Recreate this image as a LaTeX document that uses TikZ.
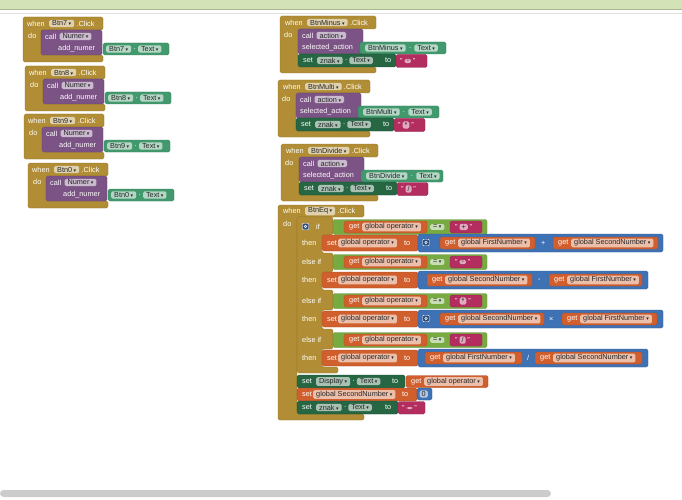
\documentclass[tikz,border=0pt]{standalone}
\usepackage{fontspec}
\setmainfont{Liberation Sans}
\newfontfamily\symf{DejaVu Sans}
\usepackage{tikz}
\usetikzlibrary{positioning}

\definecolor{evt}{RGB}{177,142,53}
\definecolor{proc}{RGB}{124,83,133}
\definecolor{comp}{RGB}{67,153,110}
\definecolor{setc}{RGB}{38,102,67}
\definecolor{txt}{RGB}{179,45,94}
\definecolor{var}{RGB}{208,95,45}
\definecolor{math}{RGB}{63,113,181}
\definecolor{logic}{RGB}{119,171,65}
\definecolor{topbar}{RGB}{212,226,184}

\newcommand{\bfs}{\fontsize{7.3}{8}\selectfont}
\newcommand{\dn}{{\hspace{1.5pt}\symf\fontsize{5}{5}\selectfont ▾}}

\tikzset{
  lbl/.style={text=white, inner sep=0pt, anchor=west, font=\bfs},
  fld/.style={fill=white, fill opacity=.6, text opacity=1, text=black!85,
    rounded corners=1.5pt, inner xsep=3pt, inner ysep=1pt, anchor=west, font=\bfs},
  blk/.style={rounded corners=1.5pt, draw=#1!80!black, line width=.3pt, fill=#1},
  mut/.style={fill=math!70!black, draw=white, line width=.4pt, rounded corners=1pt,
    minimum size=6.5pt, inner sep=0pt},
}

\begin{document}
\begin{tikzpicture}[x=1pt,y=-1pt]
    \useasboundingbox (0,0) rectangle (682,500);

    % Top bar and scroll bar
    \fill[topbar] (0,0) rectangle (682,9);
    \draw[topbar!80!black, line width=.6pt] (0,9.3) -- (682,9.3);
    \draw[gray!25, line width=1pt] (0,14) -- (682,14);
    \fill[gray!40, rounded corners=3.5pt] (0,490) rectangle (551,497);

    % Digit buttons
    \foreach \bx/\by/\bn in {23/17/Btn7,25/66/Btn8,24/114/Btn9,28/163/Btn0}{
      \begin{scope}[shift={(\bx,\by)}]
        \draw[blk=evt] (0,0) -- (80,0) -- (80,13) -- (18,13) -- (18,38) -- (80,38) -- (80,45) -- (0,45) -- cycle;
        \draw[blk=proc] (18,13) rectangle (79,38);
        \draw[blk=comp] (80,26) rectangle (146,38);
        \node[lbl] (when\bn) at (4,6.5) {when};
        \node[fld] (ev\bn) at (26,6.5) {\bn\dn};
        \node[lbl, right=2pt of ev\bn] (click\bn) {.Click};
        \node[lbl] (do\bn) at (5,19) {do};
        \node[lbl] (call\bn) at (22,19.5) {call};
        \node[fld, right=3pt of call\bn] (proc\bn) {Numer\dn};
        \node[lbl] (arg\bn) at (35,32) {add\_numer};
        \node[fld] (src\bn) at (83,32) {\bn\dn};
        \node[lbl, right=2pt of src\bn] (dot\bn) {.};
        \node[fld, right=2pt of dot\bn] (prop\bn) {Text\dn};
      \end{scope}
    }

    % Operator buttons
    \foreach \ex/\ey/\en/\hw/\tw/\op in {280/16/BtnMinus/96/86/-,278/80/BtnMulti/92/81/*,281/144/BtnDivide/97/82/\slash}{
      \begin{scope}[shift={(\ex,\ey)}]
        \draw[blk=evt] (0,0) -- (\hw,0) -- (\hw,13) -- (18,13) -- (18,51) -- (\hw,51) -- (\hw,57) -- (0,57) -- cycle;
        \draw[blk=proc] (18,13) rectangle (83,38);
        \draw[blk=comp] (80,26) rectangle (80+\tw,38);
        \draw[blk=setc] (18,38) rectangle (116,51);
        \draw[blk=txt] (116,38.5) rectangle (147,51.5);
        \node[lbl] (when\en) at (5,6.5) {when};
        \node[fld] (ev\en) at (27,6.5) {\en\dn};
        \node[lbl, right=2pt of ev\en] (click\en) {.Click};
        \node[lbl] (do\en) at (4,19) {do};
        \node[lbl] (call\en) at (22,19.5) {call};
        \node[fld, right=3pt of call\en] (proc\en) {action\dn};
        \node[lbl] (arg\en) at (22,32) {selected\_action};
        \node[fld] (src\en) at (85,32) {\en\dn};
        \node[lbl, right=3pt of src\en] (dot\en) {.};
        \node[fld, right=3pt of dot\en] (prop\en) {Text\dn};
        \node[lbl] (set\en) at (23,44.5) {set};
        \node[fld] (znak\en) at (37,44.5) {znak\dn};
        \node[lbl, right=2pt of znak\en] (zdot\en) {.};
        \node[fld, right=2pt of zdot\en] (ztxt\en) {Text\dn};
        \node[lbl] (to\en) at (105,44.5) {to};
        \node[lbl] (qa\en) at (120,45) {"};
        \node[fld, right=1.5pt of qa\en, inner xsep=2pt] (str\en) {\op};
        \node[lbl, right=1.5pt of str\en] (qb\en) {"};
      \end{scope}
    }

    % Equals button
    \draw[blk=evt] (278,205) -- (364,205) -- (364,217) -- (297,217) -- (297,414) -- (364,414) -- (364,420) -- (278,420) -- cycle;
    \node[lbl] (whenEq) at (283,211) {when};
    \node[fld] (evEq) at (305,211) {BtnEq\dn};
    \node[lbl, right=2pt of evEq] (clickEq) {.Click};
    \node[lbl] (doEq) at (283,224) {do};

    % if / else if block
    \draw[blk=evt] (297,217) -- (333,217) -- (333,235) -- (322,235) -- (322,253) -- (333,253) -- (333,272) -- (322,272)
      -- (322,290) -- (333,290) -- (333,310) -- (322,310) -- (322,329) -- (333,329) -- (333,349) -- (322,349)
      -- (322,367) -- (338,367) -- (338,373) -- (297,373) -- cycle;
    \node[mut] (mutIf) at (305.5,226.5) {};
    \draw[white, line width=.6pt] (mutIf) circle (1.3pt);
    \node[lbl] (ifLbl) at (316,227) {if};
    \foreach \ly/\lt in {243/then,262/else if,280/then,301/else if,319/then,340/else if,358/then}
      \node[lbl] (lb\ly) at (302,\ly) {\lt};

    % Tests
    \foreach \cy/\op in {227/+,262/-,301/*,340/\slash}{
      \draw[blk=logic] (333,\cy-7.5) rectangle (487,\cy+7.5);
      \draw[blk=var] (344,\cy-6) rectangle (427,\cy+6);
      \draw[blk=txt] (450,\cy-6) rectangle (482,\cy+6);
      \node[lbl] (cg\cy) at (349,\cy) {get};
      \node[fld] (cv\cy) at (362,\cy) {global operator\dn};
      \node[fld] (eq\cy) at (430,\cy) {=\dn};
      \node[lbl] (qa\cy) at (455,\cy) {"};
      \node[fld, right=1.5pt of qa\cy, inner xsep=2pt] (cs\cy) {\op};
      \node[lbl, right=1.5pt of cs\cy] (qb\cy) {"};
    }

    % Assignments
    \foreach \ty in {243,280,319,358}{
      \draw[blk=var] (322,\ty-8) rectangle (418,\ty+8);
      \node[lbl] (ts\ty) at (327,\ty) {set};
      \node[fld] (tv\ty) at (338,\ty) {global operator\dn};
      \node[lbl] (tt\ty) at (404,\ty) {to};
    }
    \draw[blk=math] (418,234) rectangle (663,252);
    \draw[blk=math] (418,271) rectangle (648,289);
    \draw[blk=math] (418,310) rectangle (663,328);
    \draw[blk=math] (418,349) rectangle (648,367);
    \node[mut] (mutAdd) at (426,242.5) {};
    \draw[white, line width=.6pt] (mutAdd) circle (1.3pt);
    \node[mut] (mutMul) at (426,318.5) {};
    \draw[white, line width=.6pt] (mutMul) circle (1.3pt);
    \node[lbl] (opAdd) at (541,243) {+};
    \node[lbl] (opSub) at (538,280) {-};
    \node[lbl] (opMul) at (549,319) {×};
    \node[lbl] (opDiv) at (527,358) {/};
    \foreach \gl/\gr/\gy/\gv in {440/535/243/FirstNumber,553/658/243/SecondNumber,427/532/280/SecondNumber,549/642/280/FirstNumber,
        440/544/319/SecondNumber,562/657/319/FirstNumber,425/522/358/FirstNumber,535/642/358/SecondNumber}{
      \draw[blk=var] (\gl,\gy-6) rectangle (\gr,\gy+6);
      \node[lbl] (g\gl-\gy) at (\gl+5,\gy) {get};
      \node[fld] (v\gl-\gy) at (\gl+18,\gy) {global \gv\dn};
    }

    % Closing statements
    \draw[blk=setc] (297,375) rectangle (405,388);
    \draw[blk=var] (406,375.5) rectangle (488,387.5);
    \node[lbl] (setD) at (302,381.5) {set};
    \node[fld] (dispD) at (316,381.5) {Display\dn};
    \node[lbl, right=2pt of dispD] (dotD) {.};
    \node[fld, right=2pt of dotD] (textD) {Text\dn};
    \node[lbl] (toD) at (392,381.5) {to};
    \node[lbl] (getD) at (411,381.5) {get};
    \node[fld] (varD) at (424,381.5) {global operator\dn};

    \draw[blk=var] (297,388) rectangle (417,401);
    \draw[blk=math] (417,388) rectangle (432,400);
    \node[lbl] (setS) at (302,394.5) {set};
    \node[fld] (varS) at (313,394.5) {global SecondNumber\dn};
    \node[lbl] (toS) at (402,394.5) {to};
    \node[fld, inner xsep=2pt] (zero) at (419.5,394) {0};

    \draw[blk=setc] (297,401) rectangle (398,414);
    \draw[blk=txt] (398,401.5) rectangle (425,414);
    \node[lbl] (setZ) at (302,407.5) {set};
    \node[fld] (znakZ) at (316,407.5) {znak\dn};
    \node[lbl, right=2pt of znakZ] (dotZ) {.};
    \node[fld, right=2pt of dotZ] (textZ) {Text\dn};
    \node[lbl] (toZ) at (385,407.5) {to};
    \node[lbl] (qaZ) at (402,408) {"};
    \node[fld, right=1.5pt of qaZ, minimum width=6pt] (strZ) {};
    \node[lbl, right=1.5pt of strZ] (qbZ) {"};
\end{tikzpicture}
\end{document}
